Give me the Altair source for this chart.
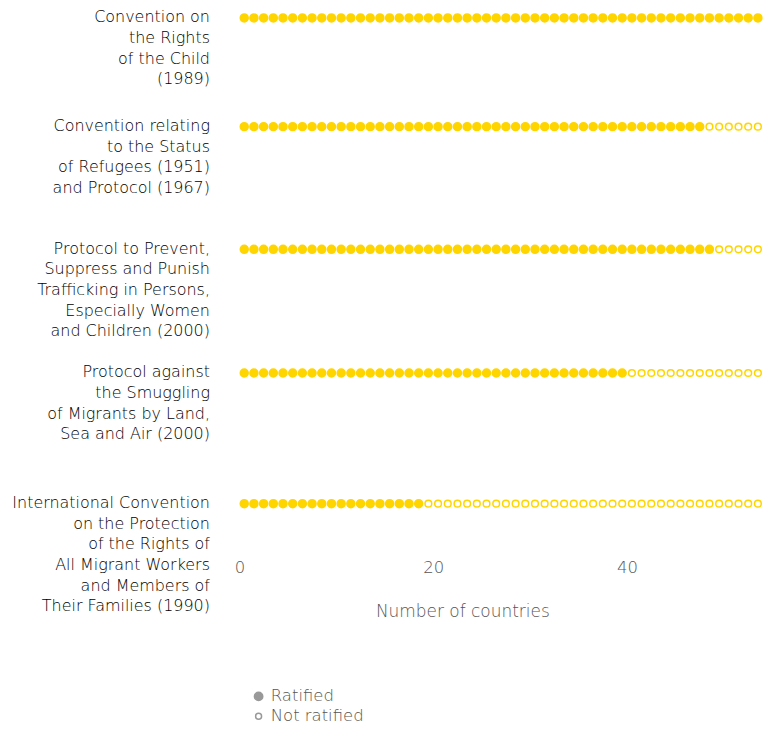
import altair as alt
import pandas as pd

treaties = [
    "Convention on|the Rights|of the Child|(1989)",
    "Convention relating|to the Status|of Refugees (1951)|and Protocol (1967)",
    "Protocol to Prevent,|Suppress and Punish|Trafficking in Persons,|Especially Women|and Children (2000)",
    "Protocol against|the Smuggling|of Migrants by Land,|Sea and Air (2000)",
    "International Convention|on the Protection|of the Rights of|All Migrant Workers|and Members of|Their Families (1990)",
]
ratified = [54, 48, 49, 40, 19]
total_countries = 54
statuses = ["Ratified", "Not ratified"]
x_ticks = [0, 20, 40]

rows = []
for t, r in zip(treaties, ratified):
    for i in range(total_countries):
        rows.append({"treaty": t, "country": i + 0.5,
                     "status": statuses[0] if i < r else statuses[1]})
df = pd.DataFrame(rows)

GOLD = "#FFD500"
FONT = "DejaVu Sans"
FW = 300
FS = 16
FS2 = 16.5
row_heights = [109, 123, 124, 131, 54]

x_scale = alt.Scale(domain=[0, 46], nice=False, zero=True)
y_scale = alt.Scale(type="point", padding=0, align=0)
y_axis = alt.Axis(labelExpr="split(datum.label, '|')", labelBaseline="top",
                  labelOffset=-9, labelAlign="right", labelPadding=30,
                  ticks=False, domain=False, grid=False, labelLimit=400,
                  labelLineHeight=20.7, labelFontSize=FS, labelColor="#000",
                  labelFont=FONT, labelFontWeight=FW)


def row_chart(idx):
    last = idx == len(treaties) - 1
    if last:
        xaxis = alt.Axis(values=x_ticks, title="Number of countries", grid=False,
                         domain=False, ticks=False, labelPadding=2, titlePadding=28,
                         labelFontSize=FS2, titleFontSize=17, labelColor="#555",
                         titleColor="#555", titleFontWeight=FW, labelFontWeight=FW,
                         labelFont=FONT, titleFont=FONT, labelFlush=False)
    else:
        xaxis = None
    base = alt.Chart(df).transform_filter(alt.datum.treaty == treaties[idx]).encode(
        x=alt.X("country:Q", scale=x_scale, axis=xaxis),
        y=alt.Y("treaty:N", title=None, scale=y_scale, axis=y_axis),
    )
    filled = base.transform_filter(alt.datum.status == statuses[0]).mark_circle(
        color=GOLD, stroke=GOLD, strokeWidth=1.5, opacity=1, size=64)
    hollow = base.transform_filter(alt.datum.status == statuses[1]).mark_circle(
        color=GOLD, fillOpacity=0, stroke=GOLD, strokeWidth=1.5, strokeOpacity=1, size=45)
    layers = [filled, hollow]
    if last:
        key = alt.Chart(df).transform_filter(alt.datum.country < 0).mark_circle(
            stroke="#999", strokeWidth=1, opacity=1).encode(
            x=alt.X("country:Q", scale=x_scale, axis=xaxis),
            y=alt.Y("treaty:N", title=None, scale=y_scale, axis=y_axis),
            fill=alt.Fill("status:N", scale=alt.Scale(domain=statuses,
                                                      range=["#999", "#ffffff"]),
                          legend=alt.Legend(title=None, orient="none", legendX=11,
                                            legendY=672, direction="vertical",
                                            labelFontSize=FS2, labelColor="#555",
                                            labelFont=FONT, labelFontWeight=FW,
                                            symbolType="circle",
                                            rowPadding=3, padding=0, labelOffset=4,
                                            symbolStrokeColor="#999")),
            size=alt.Size("status:N", scale=alt.Scale(domain=statuses, range=[70, 36])),
        )
        layers.append(key)
    return alt.layer(*layers).properties(width=447, height=row_heights[idx])


chart = alt.vconcat(*[row_chart(i) for i in range(len(treaties))],
                    spacing=0, bounds="flush").properties(
    padding={"top": 0, "left": 3, "right": 0, "bottom": 0}).configure(
    font=FONT, view=alt.ViewConfig(stroke=None))

chart.save("out.html", embed_options={"renderer": "svg", "actions": False})
